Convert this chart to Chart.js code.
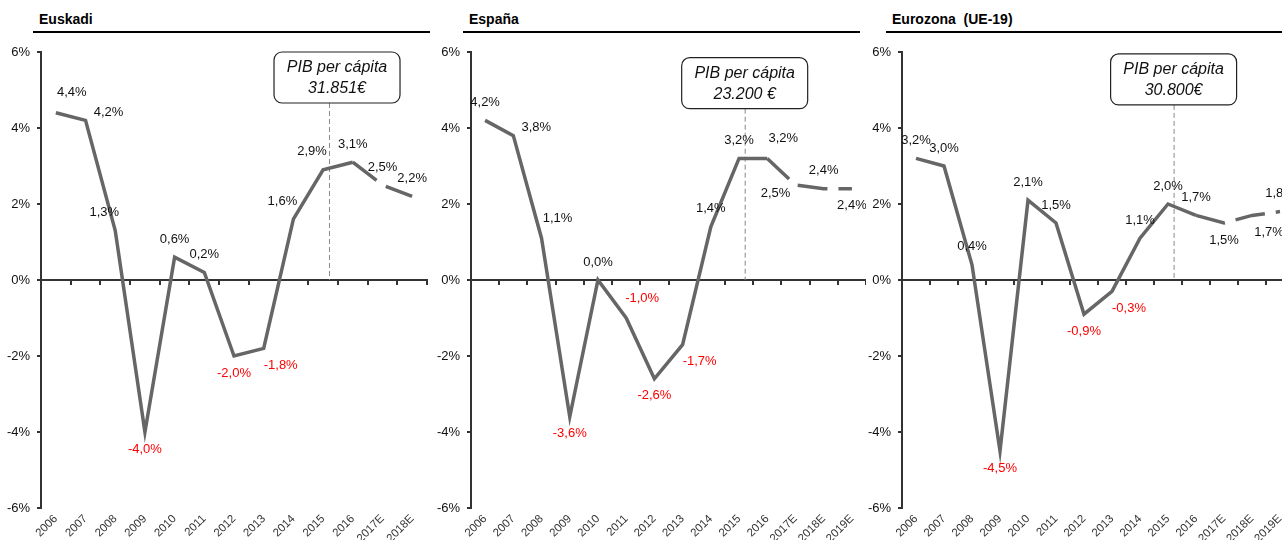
<!DOCTYPE html>
<html>
<head>
<meta charset="utf-8">
<title>PIB</title>
<script src="https://cdn.jsdelivr.net/npm/chart.js@4/dist/chart.umd.min.js"></script>
<style>
  body { margin: 0; width: 1282px; height: 540px; overflow: hidden; background: #fff; position: relative;
         font-family: "Liberation Sans", Arial, sans-serif; }
  .title { position: absolute; top: 10px; height: 18px; line-height: 18px; padding: 0 0 3px 6px;
           border-bottom: 2px solid #000; font-weight: bold; font-size: 14px; color: #000; white-space: pre; }
  canvas { position: absolute; top: 0; }
</style>
</head>
<body>
<div class="title" style="left:33px; width:391px;">Euskadi</div>
<div class="title" style="left:463px; width:391px;">España</div>
<div class="title" style="left:886px; width:390px;">Eurozona  (UE-19)</div>

<canvas id="euskadiChart" width="430" height="540" style="left:0px"></canvas>
<canvas id="espanaChart" width="436" height="540" style="left:430px"></canvas>
<canvas id="eurozonaChart" width="433" height="540" style="left:861px"></canvas>

<script>
// Years
const yearsEuskadi = ['2006', '2007', '2008', '2009', '2010', '2011', '2012', '2013', '2014', '2015', '2016', '2017E', '2018E'];
const yearsLong = ['2006', '2007', '2008', '2009', '2010', '2011', '2012', '2013', '2014', '2015', '2016', '2017E', '2018E', '2019E'];

// GDP growth (%)
const euskadiValues = [4.4, 4.2, 1.3, -4.0, 0.6, 0.2, -2.0, -1.8, 1.6, 2.9, 3.1, 2.5, 2.2];
const espanaValues = [4.2, 3.8, 1.1, -3.6, 0.0, -1.0, -2.6, -1.7, 1.4, 3.2, 3.2, 2.5, 2.4, 2.4];
const eurozonaValues = [3.2, 3.0, 0.4, -4.5, 2.1, 1.5, -0.9, -0.3, 1.1, 2.0, 1.7, 1.5, 1.7, 1.8];

// y axis range
const yMin = -6;
const yMax = 6;
const yStep = 2;

// PIB per capita boxes
const euskadiBox = ['PIB per cápita', '31.851€'];
const espanaBox = ['PIB per cápita', '23.200 €'];
const eurozonaBox = ['PIB per cápita', '30.800€'];

// where each value label sits relative to its point
const euskadiPlace = ['ar', 'r', 'al', 'b', 'a', 'a', 'b', 'br', 'al', 'al', 'a', 'a', 'a'];
const espanaPlace = ['a', 'r', 'ar', 'b', 'a', 'ar', 'b', 'br', 'a', 'a', 'ar', 'bl', 'a', 'b'];
const eurozonaPlace = ['a', 'a', 'a', 'b', 'a', 'a', 'b', 'br', 'a', 'a', 'a', 'b', 'br', 'a'];

const labelOffsets = {
    a: [0, -18], b: [0, 17], r: [23, -8], ar: [16, -20],
    al: [-11, -18], br: [17, 17], bl: [-20, 8]
};

const FONT = '"Liberation Sans", Arial, sans-serif';
Chart.defaults.font.family = FONT;

function fmt(v) {
    return v.toFixed(1).replace('.', ',') + '%';
}

// value labels next to points
const pointLabels = {
    id: 'pointLabels',
    afterDatasetsDraw(chart, args, opts) {
        const ctx = chart.ctx;
        const meta = chart.getDatasetMeta(0);
        const values = chart.data.datasets[0].data;
        ctx.save();
        ctx.font = '13px ' + FONT;
        ctx.textAlign = 'center';
        ctx.textBaseline = 'middle';
        meta.data.forEach((pt, i) => {
            const off = labelOffsets[opts.place[i]] || labelOffsets.a;
            ctx.fillStyle = values[i] < 0 ? '#ff0000' : '#111';
            ctx.fillText(fmt(values[i]), pt.x + off[0], pt.y + off[1]);
        });
        ctx.restore();
    }
};

// rounded box with PIB per capita and dashed marker line
const pibBox = {
    id: 'pibBox',
    beforeDatasetsDraw(chart, args, opts) {
        const { ctx, scales: { x, y } } = chart;
        const px = x.getPixelForValue(opts.at);
        const bx = px + opts.dx;
        const top = y.getPixelForValue(opts.top);
        const w = 126, h = 51;
        ctx.save();
        ctx.strokeStyle = '#888';
        ctx.lineWidth = 1;
        ctx.setLineDash([5, 3]);
        ctx.beginPath();
        ctx.moveTo(px + 0.5, top + h);
        ctx.lineTo(px + 0.5, y.getPixelForValue(0));
        ctx.stroke();
        ctx.setLineDash([]);
        ctx.beginPath();
        ctx.roundRect(bx - w / 2, top, w, h, 8);
        ctx.fillStyle = '#fff';
        ctx.fill();
        ctx.strokeStyle = '#222';
        ctx.lineWidth = 1.2;
        ctx.stroke();
        ctx.fillStyle = '#111';
        ctx.font = 'italic 16px ' + FONT;
        ctx.textAlign = 'center';
        ctx.textBaseline = 'middle';
        ctx.fillText(opts.text[0], bx, top + 16);
        ctx.fillText(opts.text[1], bx, top + 37);
        ctx.restore();
    }
};

function makeChart(id, labels, values, place, boxText, boxTop, boxDx, padRight) {
    const ctx = document.getElementById(id).getContext('2d');
    return new Chart(ctx, {
        type: 'line',
        data: {
            labels: labels,
            datasets: [{
                data: values,
                borderColor: '#666',
                borderWidth: 3.5,
                borderCapStyle: 'butt',
                pointRadius: 0,
                tension: 0,
                segment: {
                    // estimates drawn dashed
                    borderDash: c => c.p0DataIndex >= 10 ? [30, 11] : undefined
                }
            }]
        },
        plugins: [pibBox, pointLabels],
        options: {
            responsive: false,
            animation: false,
            layout: { padding: { top: 52, right: padRight, bottom: 0, left: 0 } },
            plugins: {
                legend: { display: false },
                tooltip: { enabled: false },
                pointLabels: { place: place },
                pibBox: { at: 9.2, top: boxTop, dx: boxDx, text: boxText }
            },
            scales: {
                x: {
                    position: { y: 0 },
                    offset: true,
                    grid: { drawOnChartArea: false, drawTicks: true, tickLength: 4, color: '#333', lineWidth: 2, offset: true },
                    border: { display: true, color: '#333', width: 2 },
                    ticks: { display: false }
                },
                xl: {
                    type: 'category',
                    position: 'bottom',
                    offset: true,
                    grid: { display: false, drawTicks: false },
                    border: { display: false },
                    ticks: { autoSkip: false, minRotation: 45, maxRotation: 45, color: '#333', font: { size: 11.5 }, padding: 4 },
                    afterFit(s) { s.height = 32; }
                },
                y: {
                    min: yMin,
                    max: yMax,
                    ticks: { stepSize: yStep, callback: v => v + '%', color: '#111', font: { size: 13 }, padding: 7 },
                    grid: { drawOnChartArea: false, drawTicks: true, tickLength: 4, color: '#333', lineWidth: 2 },
                    border: { display: true, color: '#333', width: 2 },
                    afterFit(s) { s.width = 41; }
                }
            }
        }
    });
}

makeChart('euskadiChart', yearsEuskadi, euskadiValues, euskadiPlace, euskadiBox, 6.0, 8, 3);
makeChart('espanaChart', yearsLong, espanaValues, espanaPlace, espanaBox, 5.85, 0, 0);
makeChart('eurozonaChart', yearsLong, eurozonaValues, eurozonaPlace, eurozonaBox, 5.95, 0, 0);
</script>
</body>
</html>
